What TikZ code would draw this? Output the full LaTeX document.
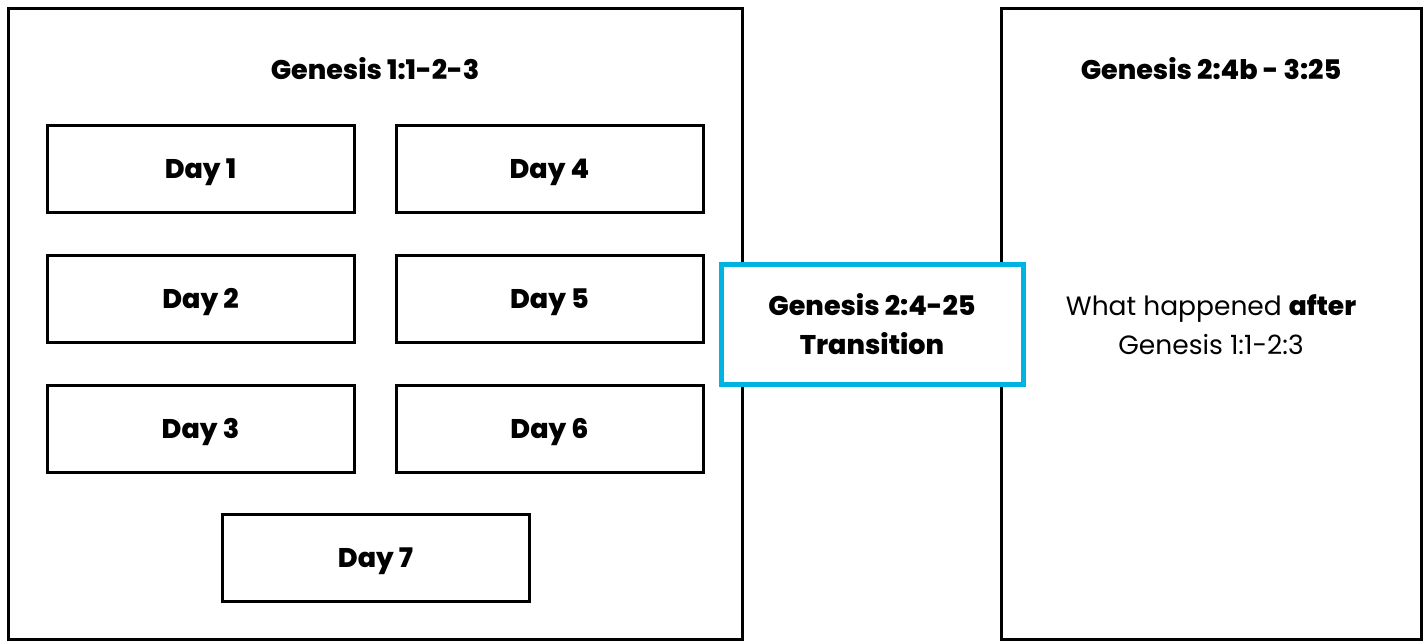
\documentclass[tikz,border=0pt]{standalone}
\usepackage{fontspec}
\setmainfont{Poppins}[BoldFont={Poppins ExtraBold}]
\definecolor{transblue}{RGB}{0,180,226}

\begin{document}
\begin{tikzpicture}[
      x=1pt, y=-1pt,
      every node/.style={font=\fontsize{27}{39}\selectfont\bfseries, align=center},
      section/.style={draw, line width=3pt, minimum width=#1, minimum height=631pt, inner sep=0pt},
      day/.style={draw, line width=3pt, minimum width=307pt, minimum height=87pt, inner sep=0pt,
        text height=19pt, text depth=0pt},
      bridge/.style={draw=transblue, fill=white, line width=5pt, minimum width=302pt, minimum height=120pt, inner sep=0pt}
    ]
      \useasboundingbox (0,0) rectangle (1426,640);
      \node[section=734pt] (creation) at (375,323.5) {};
      \node[section=420pt] (after) at (1211,323.5) {};
      \node (creationtitle) at (375,69) {Genesis 1:1-2-3};
      \node (aftertitle) at (1211,69) {Genesis 2:4b - 3:25};
      \node[day] (day1) at (200.5,168.5) {Day 1};
      \node[day] (day2) at (200.5,298.5) {Day 2};
      \node[day] (day3) at (200.5,428.5) {Day 3};
      \node[day] (day4) at (549.5,168.5) {Day 4};
      \node[day] (day5) at (549.5,298.5) {Day 5};
      \node[day] (day6) at (549.5,428.5) {Day 6};
      \node[day] (day7) at (375.5,557.5) {Day 7};
      \node[bridge] (transition) at (872,324) {Genesis 2:4-25\\Transition};
      \node[font=\fontsize{26.5}{39}\selectfont] (aftertext) at (1211,325)
        {What happened \textbf{after}\\Genesis 1:1-2:3};
    \end{tikzpicture}
\end{document}
